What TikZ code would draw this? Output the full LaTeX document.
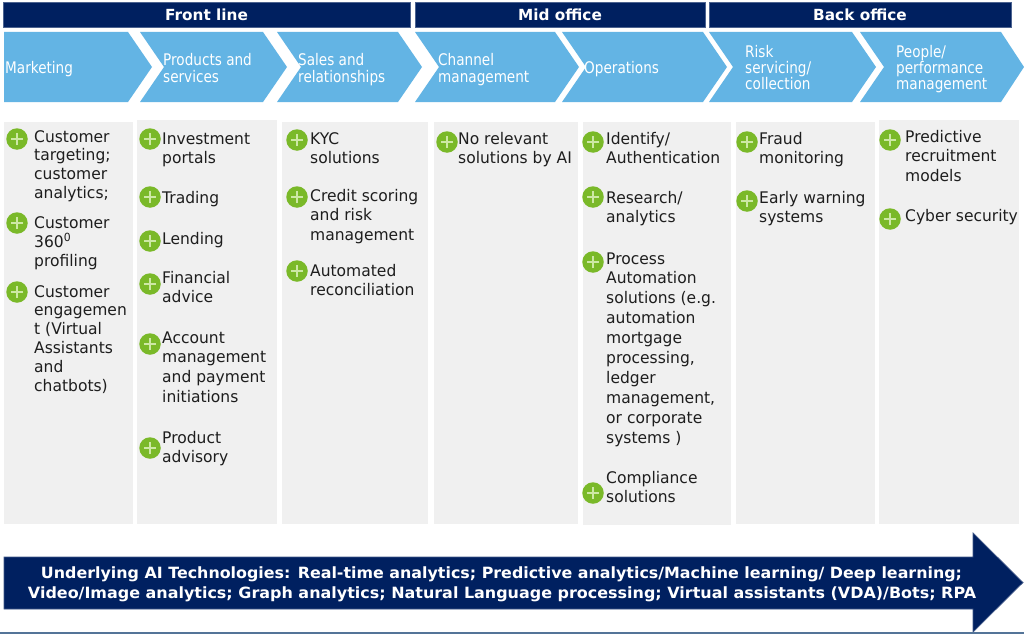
\documentclass[tikz,border=0pt]{standalone}
\usepackage{fontspec}
\usepackage{graphicx}
\setmainfont{DejaVu Sans}
\newfontfamily\bodyfont[FakeStretch=0.97]{DejaVu Sans}
\newfontfamily\chevfont[FakeStretch=0.85]{DejaVu Sans}
\newfontfamily\headfont{DejaVu Sans}
\definecolor{navy}{RGB}{0,32,96}
\definecolor{chevblue}{RGB}{99,180,228}
\definecolor{boxgray}{RGB}{240,240,240}
\definecolor{aigreen}{RGB}{122,185,41}
\definecolor{pluscol}{RGB}{205,232,165}
\definecolor{steel}{RGB}{84,116,152}
\definecolor{bodytext}{RGB}{30,30,30}
\newcommand\rowtxt[1]{\hbox{#1}}
\newcommand\aiitem[7]{%
  \node[plusicon] (i#1) at (#2,#3) {};
  \node[itemtxt] (t#1) at (#4,#5) {\vtop{\baselineskip=#6pt #7}};
}
\newcommand\chevlabel[5]{%
  \node[chevtxt] (l#1) at (#2,#3) {\vtop{\baselineskip=#4pt #5}};
}
\begin{document}
\begin{tikzpicture}[x=1pt,y=-1pt,
  headbar/.style={fill=navy, draw=navy!70!white, line width=0.6pt, text=white,
    font=\headfont\fontsize{15.3}{18}\selectfont\bfseries, inner sep=0},
  chev/.style={fill=chevblue},
  colbox/.style={fill=boxgray},
  plusicon/.style={circle, fill=aigreen, minimum size=21.5pt, inner sep=0, outer sep=0,
    path picture={
      \draw[pluscol, line width=1.1pt]
        ([xshift=-6pt]path picture bounding box.center) -- ([xshift=6pt]path picture bounding box.center);
      \draw[pluscol, line width=1.1pt]
        ([yshift=-6pt]path picture bounding box.center) -- ([yshift=6pt]path picture bounding box.center);
    }},
  itemtxt/.style={anchor=base west, inner sep=0, text=bodytext,
    font=\bodyfont\fontsize{16}{19.6}\selectfont},
  chevtxt/.style={anchor=base west, inner sep=0, text=white,
    font=\chevfont\fontsize{16}{16.5}\selectfont},
  arrowtxt/.style={anchor=base, inner sep=0, text=white,
    font=\headfont\fontsize{15.5}{19}\selectfont\bfseries}
]
\useasboundingbox (0,0) rectangle (1024,634);
\fill[white] (0,0) rectangle (1024,634);

% header bars
\node[headbar, minimum width=407pt, minimum height=25pt] (hfront) at (206.5,14.5) {Front line};
\node[headbar, minimum width=290pt, minimum height=25pt] (hmid) at (560,14.5) {Mid office};
\node[headbar, minimum width=302pt, minimum height=25pt] (hback) at (860,14.5) {Back office};

% chevrons
\fill[chev] (4,32) -- (128,32) -- (152,67) -- (128,102) -- (4,102) -- cycle;
\fill[chev] (140,32) -- (263,32) -- (287,67) -- (263,102) -- (140,102) -- (164,67) -- cycle;
\fill[chev] (277,32) -- (398,32) -- (422,67) -- (398,102) -- (277,102) -- (301,67) -- cycle;
\fill[chev] (415,32) -- (555,32) -- (579,67) -- (555,102) -- (415,102) -- (439,67) -- cycle;
\fill[chev] (562,32) -- (703,32) -- (727,67) -- (703,102) -- (562,102) -- (586,67) -- cycle;
\fill[chev] (709,32) -- (852,32) -- (876,67) -- (852,102) -- (709,102) -- (733,67) -- cycle;
\fill[chev] (860,32) -- (1001,32) -- (1024,67) -- (1001,102) -- (860,102) -- (884,67) -- cycle;

\chevlabel{1}{5}{74}{16.5}{\rowtxt{Marketing}}
\chevlabel{2}{163}{65.5}{17}{\rowtxt{Products and}\rowtxt{services}}
\chevlabel{3}{298}{65.5}{17}{\rowtxt{Sales and}\rowtxt{relationships}}
\chevlabel{4}{438}{65.5}{17}{\rowtxt{Channel}\rowtxt{management}}
\chevlabel{5}{584}{74}{16.5}{\rowtxt{Operations}}
\chevlabel{6}{745}{57.5}{16}{\rowtxt{Risk}\rowtxt{servicing/}\rowtxt{collection}}
\chevlabel{7}{896}{57.5}{16}{\rowtxt{People/}\rowtxt{performance}\rowtxt{management}}

% columns
\fill[colbox] (4,122) rectangle (133,524);
\fill[colbox] (137,120) rectangle (277,524);
\fill[colbox] (282,122) rectangle (428,524);
\fill[colbox] (434,122) rectangle (578,524);
\fill[colbox] (583,122) rectangle (731,525);
\fill[colbox] (736,122) rectangle (875,524);
\fill[colbox] (879,120) rectangle (1019,524);

% column 1
\aiitem{a1}{17}{139}{34}{142}{18.8}{\rowtxt{Customer}\rowtxt{targeting;}\rowtxt{customer}\rowtxt{analytics;}}
\aiitem{a2}{17}{223}{34}{228}{19.3}{\rowtxt{Customer}\rowtxt{360\textsuperscript{0}}\rowtxt{profiling}}
\aiitem{a3}{17}{292}{34}{297}{18.8}{\rowtxt{Customer}\rowtxt{engagemen}\rowtxt{t (Virtual}\rowtxt{Assistants}\rowtxt{and}\rowtxt{chatbots)}}
% column 2
\aiitem{b1}{150}{139}{162}{144}{19.6}{\rowtxt{Investment}\rowtxt{portals}}
\aiitem{b2}{150}{197}{162}{203}{19.6}{\rowtxt{Trading}}
\aiitem{b3}{150}{241}{162}{244}{19.6}{\rowtxt{Lending}}
\aiitem{b4}{150}{284}{162}{283}{19.6}{\rowtxt{Financial}\rowtxt{advice}}
\aiitem{b5}{150}{344}{162}{343}{19.7}{\rowtxt{Account}\rowtxt{management}\rowtxt{and payment}\rowtxt{initiations}}
\aiitem{b6}{150}{448}{162}{443}{19.6}{\rowtxt{Product}\rowtxt{advisory}}
% column 3
\aiitem{c1}{297}{140}{310}{144}{19.6}{\rowtxt{KYC}\rowtxt{solutions}}
\aiitem{c2}{297}{197}{310}{201}{19.6}{\rowtxt{Credit scoring}\rowtxt{and risk}\rowtxt{management}}
\aiitem{c3}{297}{271}{310}{276}{19.6}{\rowtxt{Automated}\rowtxt{reconciliation}}
% column 4
\aiitem{d1}{447}{142}{458}{144}{19.6}{\rowtxt{No relevant}\rowtxt{solutions by AI}}
% column 5
\aiitem{e1}{593}{142}{606}{144}{19.6}{\rowtxt{Identify/}\rowtxt{Authentication}}
\aiitem{e2}{593}{197}{606}{203}{19.6}{\rowtxt{Research/}\rowtxt{analytics}}
\aiitem{e3}{593}{262}{606}{264}{19.9}{\rowtxt{Process}\rowtxt{Automation}\rowtxt{solutions (e.g.}\rowtxt{automation}\rowtxt{mortgage}\rowtxt{processing,}\rowtxt{ledger}\rowtxt{management,}\rowtxt{or corporate}\rowtxt{systems )}}
\aiitem{e4}{593}{493}{606}{483}{19.8}{\rowtxt{Compliance}\rowtxt{solutions}}
% column 6
\aiitem{f1}{747}{142}{759}{144}{19.6}{\rowtxt{Fraud}\rowtxt{monitoring}}
\aiitem{f2}{747}{201}{759}{203}{19.6}{\rowtxt{Early warning}\rowtxt{systems}}
% column 7
\aiitem{g1}{890}{140}{905}{142}{19.5}{\rowtxt{Predictive}\rowtxt{recruitment}\rowtxt{models}}
\aiitem{g2}{890}{219}{905}{221}{19.6}{\rowtxt{Cyber security}}

% bottom arrow
\fill[navy, draw=navy!75!white, line width=0.7pt] (4,557) -- (973,557) -- (973,533) -- (1023,582.5) -- (973,632) -- (973,609) -- (4,609) -- cycle;
\node[arrowtxt] (u1) at (501.5,578.5) {\resizebox{921pt}{\height}{Underlying AI Technologies: Real-time analytics; Predictive analytics/Machine learning/ Deep learning;}};
\node[arrowtxt] (u2) at (502,598.5) {\resizebox{948pt}{\height}{Video/Image analytics; Graph analytics; Natural Language processing; Virtual assistants (VDA)/Bots; RPA}};

\draw[steel, line width=1.6pt] (0,633.2) -- (1024,633.2);
\end{tikzpicture}
\end{document}
